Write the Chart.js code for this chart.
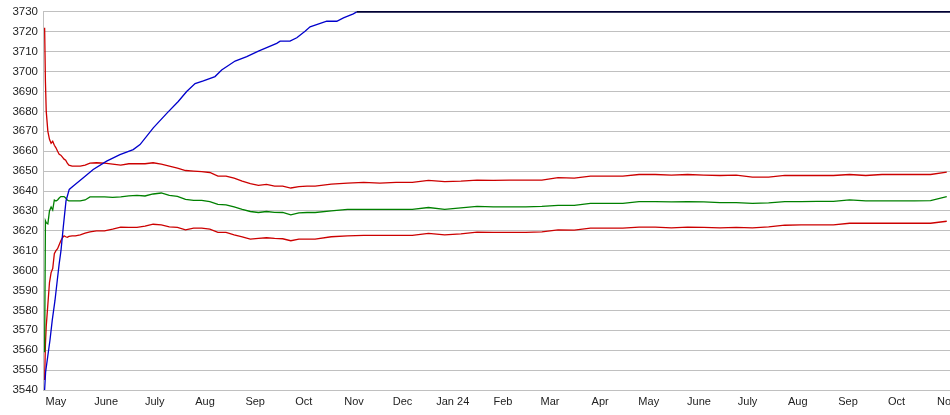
<!DOCTYPE html>
<html>
<head>
<meta charset="utf-8">
<script src="https://cdn.jsdelivr.net/npm/chart.js@4.4.1/dist/chart.umd.min.js"></script>
<style>
  html, body { margin: 0; padding: 0; background: #fff; }
  #wrap { width: 950px; height: 415px; position: relative; }
</style>
</head>
<body>
<div id="wrap"><canvas id="myChart"></canvas></div>
<script>
'use strict';

// x values are days counted from 1 May 2023
var monthDays = [0, 31, 61, 92, 123, 153, 184, 214, 245, 276, 305, 336, 366, 397, 427, 458, 489, 519, 550];
var monthLabels = ['May', 'June', 'July', 'Aug', 'Sep', 'Oct', 'Nov', 'Dec', 'Jan 24', 'Feb', 'Mar', 'Apr',
	'May', 'June', 'July', 'Aug', 'Sep', 'Oct', 'Nov'];

var yTicks = [3540, 3550, 3560, 3570, 3580, 3590, 3600, 3610, 3620, 3630, 3640, 3650, 3660, 3670, 3680, 3690, 3700, 3710, 3720, 3730];

// blue line (own sample days)
var blueDays = [-7, -6.4, -5.1, -3.7, -2.3, -0.6, 0.8, 2, 3.1, 4.5, 6.2, 8.2, 10.7, 16.9, 23, 31.3, 39.5, 47.7, 51.9,
	60.1, 68.4, 75.5, 80.7, 85.9, 91, 98.2, 102.3, 110.6, 117.8, 125, 136.3, 138.4, 144.5, 148.7, 153.8, 156.9,
	167.2, 173.4, 177.5, 183.6, 185.7, 552];
var blueValues = [3540, 3549, 3556.7, 3565, 3575, 3585, 3595, 3603.5, 3610, 3621.7, 3635, 3640.8, 3642.5, 3646.7, 3650.8, 3655, 3658.3, 3660.8, 3663.3,
	3671.7, 3679, 3685, 3690, 3694, 3695.3, 3697.5, 3700.8, 3705.3, 3707.5, 3710.3, 3714.2, 3715.3, 3715.3, 3717, 3720.3, 3722.5,
	3725.3, 3725.3, 3727, 3729, 3730, 3730];

// shared sample days for the two red lines and the green line
var days = [-7, -6.5, -6, -5, -4, -3, -2, -1, 0, 1, 2, 3, 4, 5, 6, 7, 8, 10, 12, 15, 18, 21, 25, 30, 35, 40, 45, 50, 55,
	60, 65, 70, 75, 80, 85, 90, 95, 100, 105, 110, 115, 120, 125, 130, 135, 140, 145, 150, 155, 160, 170, 180, 190,
	200, 210, 220, 230, 240, 250, 260, 270, 280, 290, 300, 310, 320, 330, 340, 350, 360, 370, 380, 390, 400, 410,
	420, 430, 440, 450, 460, 470, 480, 490, 500, 510, 520, 530, 540, 550];

var upperRed = [3722, 3695, 3680, 3670, 3666, 3664, 3665, 3663, 3661.7, 3660, 3658.5, 3658, 3657, 3656, 3655.5, 3654, 3653, 3652.5, 3652.5, 3652.5, 3653, 3654, 3654.2, 3654, 3653.5, 3653, 3653.7, 3653.7, 3653.7,
	3654.2, 3653.5, 3652.5, 3651.5, 3650.3, 3650, 3649.7, 3649.3, 3647.5, 3647.5, 3646.5, 3645, 3643.7, 3642.8, 3643.3, 3642.5, 3642.5, 3641.5, 3642.2, 3642.5, 3642.5, 3643.5, 3644, 3644.3,
	3644, 3644.3, 3644.3, 3645.3, 3644.7, 3645, 3645.5, 3645.3, 3645.5, 3645.5, 3645.5, 3646.7, 3646.5, 3647.5, 3647.5, 3647.5, 3648.3, 3648.3, 3648, 3648.3, 3648, 3647.8,
	3648, 3647, 3647, 3647.8, 3647.8, 3647.8, 3647.8, 3648.3, 3647.8, 3648.3, 3648.3, 3648.3, 3648.3, 3649.5];

var green = [3559, 3625, 3624, 3623.5, 3630, 3632, 3630.5, 3635.5, 3635, 3635.5, 3636.5, 3637.2, 3637.2, 3637.2, 3636.5, 3635.5, 3635, 3635, 3635, 3635, 3635.5, 3637, 3637, 3637, 3636.8, 3637, 3637.5, 3637.8, 3637.5,
	3638.5, 3639, 3637.8, 3637.3, 3635.8, 3635.3, 3635.3, 3634.7, 3633.3, 3633, 3632, 3630.8, 3629.7, 3629.2, 3629.7, 3629.3, 3629.2, 3628, 3629, 3629.2, 3629.2, 3630, 3630.8, 3630.8,
	3630.8, 3630.8, 3630.8, 3631.7, 3630.8, 3631.5, 3632.3, 3632, 3632, 3632, 3632.3, 3632.8, 3632.8, 3633.8, 3633.8, 3633.8, 3634.7, 3634.7, 3634.5, 3634.7, 3634.5, 3634.2,
	3634.2, 3633.8, 3634, 3634.7, 3634.7, 3634.8, 3634.8, 3635.5, 3635, 3635, 3635, 3635, 3635.2, 3637.2];

var lowerRed = [3545, 3563, 3572, 3583, 3594, 3599, 3601, 3608.5, 3610, 3611, 3613, 3615, 3616.5, 3617.5, 3617, 3616.7, 3617.2, 3617.5, 3617.5, 3618, 3618.8, 3619.5, 3620, 3620, 3620.8, 3621.8, 3621.7, 3621.7, 3622.3,
	3623.3, 3623, 3622, 3621.7, 3620.5, 3621.3, 3621.3, 3620.8, 3619.2, 3619.2, 3618, 3617, 3615.8, 3616.2, 3616.5, 3616.2, 3616, 3615, 3615.8, 3615.8, 3615.8, 3617, 3617.5, 3617.7,
	3617.7, 3617.7, 3617.7, 3618.7, 3618, 3618.5, 3619.3, 3619.2, 3619.2, 3619.2, 3619.5, 3620.5, 3620.3, 3621.3, 3621.3, 3621.3, 3621.8, 3621.8, 3621.5, 3621.8, 3621.7, 3621.5,
	3621.7, 3621.5, 3622, 3622.8, 3623, 3623, 3623, 3623.8, 3623.8, 3623.8, 3623.8, 3623.8, 3623.8, 3624.8];

function toPoints(xs, ys) {
	return xs.map(function(x, i) { return { x: x, y: ys[i] }; });
}

function lineSet(data, color) {
	return {
		data: data,
		borderColor: color,
		borderWidth: 1.3,
		pointRadius: 0,
		tension: 0,
		fill: false,
		clip: 4
	};
}

var blueSet = lineSet(toPoints(blueDays, blueValues), '#0000cc');
// once the line reaches the top it is drawn dark
blueSet.segment = {
	borderColor: function(ctx) { return ctx.p0.parsed.y >= 3730 ? '#000033' : '#0000cc'; },
	borderWidth: function(ctx) { return ctx.p0.parsed.y >= 3730 ? 1.8 : 1.3; }
};

var ctx = document.getElementById('myChart');
var chart = new Chart(ctx, {
	type: 'line',
	data: {
		datasets: [
			blueSet,
			lineSet(toPoints(days, upperRed), '#cc0000'),
			lineSet(toPoints(days, green), '#008000'),
			lineSet(toPoints(days, lowerRed), '#cc0000')
		]
	},
	options: {
		responsive: true,
		maintainAspectRatio: false,
		animation: false,
		layout: { padding: { top: 10, right: 0, left: 0, bottom: 0 } },
		plugins: { legend: { display: false }, tooltip: { enabled: false } },
		scales: {
			x: {
				type: 'linear',
				min: -8,
				max: 552,
				grid: { display: false, drawTicks: false },
				border: { display: false },
				afterBuildTicks: function(scale) {
					scale.ticks = monthDays.map(function(d) { return { value: d }; });
				},
				afterFit: function(scale) {
					scale.height = 25;
					scale.paddingLeft = 0;
					scale.paddingRight = 0;
				},
				ticks: {
					autoSkip: false,
					maxRotation: 0,
					padding: 5,
					color: '#222',
					font: { family: "'Liberation Sans', Arial, sans-serif", size: 11 },
					callback: function(v, i) { return monthLabels[i]; }
				}
			},
			y: {
				min: 3540,
				max: 3730,
				grid: { color: '#c0c0c0', lineWidth: 1, drawTicks: false },
				border: { display: true, color: '#c0c0c0' },
				afterBuildTicks: function(scale) {
					scale.ticks = yTicks.map(function(v) { return { value: v }; });
				},
				afterFit: function(scale) {
					scale.width = 43;
				},
				ticks: {
					padding: 5,
					color: '#222',
					font: { family: "'Liberation Sans', Arial, sans-serif", size: 11.5 },
					callback: function(v) { return String(v); }
				}
			}
		}
	}
});
</script>
</body>
</html>
